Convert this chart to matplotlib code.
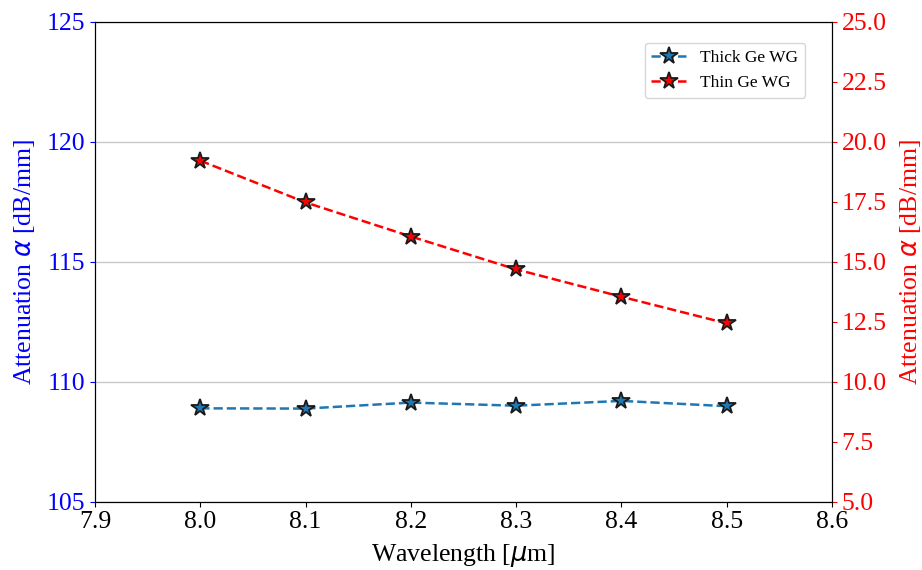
import matplotlib
matplotlib.use("Agg")
import matplotlib.pyplot as plt

# ── data ──────────────────────────────────────────────
wavelength = [8.0, 8.1, 8.2, 8.3, 8.4, 8.5]
thick_att = [108.89, 108.88, 109.13, 109.0, 109.2, 108.98]
thin_att = [19.21, 17.47, 16.05, 14.68, 13.54, 12.43]

plt.rcParams["font.family"] = ["Liberation Serif", "DejaVu Serif"]
plt.rcParams["mathtext.fontset"] = "dejavusans"

fs = 18.5

fig = plt.figure(figsize=(9.22, 5.70), dpi=100)
ax1 = fig.add_axes([95 / 922, 1 - 501.7 / 570, 737 / 922, 480 / 570])
ax2 = ax1.twinx()

l1, = ax1.plot(wavelength, thick_att, "--", color="#1f77b4", marker="*",
               markersize=13, markeredgecolor="#1a1a1a", markeredgewidth=1.3,
               linewidth=1.8, label="Thick Ge WG")
l2, = ax2.plot(wavelength, thin_att, "--", color="red", marker="*",
               markersize=13, markeredgecolor="#1a1a1a", markeredgewidth=1.3,
               linewidth=1.8, label="Thin Ge WG")

ax1.set_xlim(7.9, 8.6)
ax1.set_xticks([7.9, 8.0, 8.1, 8.2, 8.3, 8.4, 8.5, 8.6])
ax1.set_ylim(105, 125)
ax1.set_yticks([105, 110, 115, 120, 125])
ax2.set_ylim(5, 25)
ax2.set_yticks([5, 7.5, 10, 12.5, 15, 17.5, 20, 22.5, 25])
ax2.set_yticklabels(["5.0", "7.5", "10.0", "12.5", "15.0", "17.5", "20.0", "22.5", "25.0"])

ax1.grid(axis="y", color="#c8c8c8", linewidth=1.0)
ax1.set_axisbelow(True)

ax1.tick_params(axis="y", colors="blue", labelsize=fs)
ax1.tick_params(axis="x", labelsize=fs)
ax2.tick_params(axis="y", colors="red", labelsize=fs)

ax1.set_xlabel(r"Wavelength [$\mu$m]", fontsize=fs, labelpad=6)
ax1.set_ylabel(r"Attenuation $\alpha$ [dB/mm]", fontsize=fs, color="blue", labelpad=7)
ax2.set_ylabel(r"Attenuation $\alpha$ [dB/mm]", fontsize=fs, color="red", labelpad=8)

ax2.legend(handles=[l1, l2], loc="upper right", bbox_to_anchor=(0.9634, 0.9556),
           borderaxespad=0, fontsize=12.5)

fig.savefig("out.png", dpi=100)
